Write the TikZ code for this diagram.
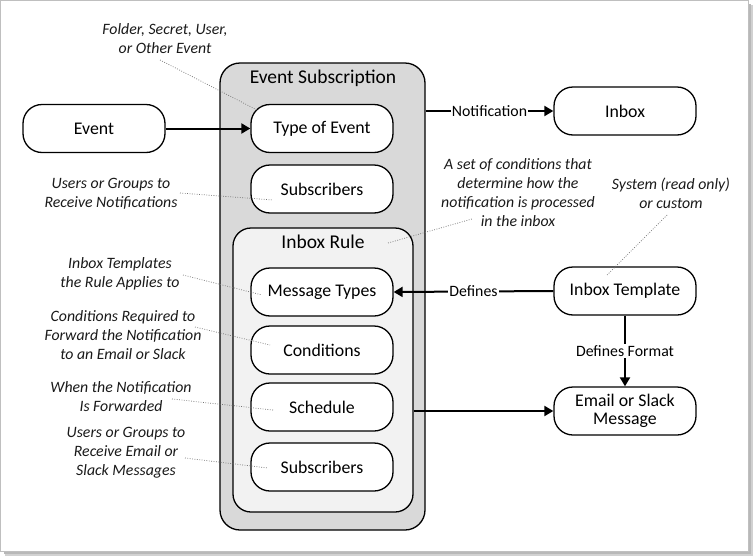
\documentclass[tikz,border=0pt]{standalone}
\usepackage{fontspec}
\setmainfont{Carlito}
\usetikzlibrary{arrows.meta}
\definecolor{outerfill}{HTML}{D9D9D9}
\definecolor{innerfill}{HTML}{F2F2F2}
\definecolor{notetext}{HTML}{1A1A1A}
\newcommand{\nodefnt}{\fontsize{17.8}{18.5}\selectfont}
\newcommand{\titlefnt}{\fontsize{19.5}{22}\selectfont}
\newcommand{\labelfnt}{\fontsize{15.8}{18}\selectfont}
\newcommand{\notefnt}{\itshape\fontsize{15.8}{19}\selectfont}
\begin{document}
\begin{tikzpicture}[x=1pt,y=-1pt,
  pill/.style={draw, line width=1.3pt, rounded corners=19pt, fill=white,
    minimum width=142pt, minimum height=48pt, inner sep=0pt, font=\nodefnt, align=center},
  container/.style={draw, line width=1.3pt, inner sep=0pt},
  note/.style={font=\notefnt, align=center, text=notetext, inner sep=0pt},
  conn/.style={line width=2pt, -{Triangle[length=9pt,width=10pt]}},
  dotln/.style={line width=0.7pt, dash pattern=on 0.8pt off 1.6pt, black!55},
  elabel/.style={fill=white, font=\labelfnt, inner sep=1pt}
]
\useasboundingbox (0,0) rectangle (756,560);
% frame with shadow
\fill[black!18] (5,5) rectangle (753,556);
\fill[black!28] (4,4) rectangle (751,554);
\draw[black!25, fill=white, line width=0.8pt] (0.5,0.5) rectangle (748,551);

% containers
\node[container, fill=outerfill, rounded corners=20pt, minimum width=205pt, minimum height=467pt] (sub) at (322.5,296.5) {};
\node[font=\titlefnt] (subtitle) at (323,78) {Event Subscription};
\node[container, fill=innerfill, rounded corners=18pt, minimum width=180pt, minimum height=284pt] (rule) at (323,370) {};
\node[font=\titlefnt] (ruletitle) at (323,242) {Inbox Rule};

% inner nodes
\node[pill] (type) at (322,128.5) {Type of Event};
\node[pill] (subs1) at (322,189) {Subscribers};
\node[pill] (msg) at (322,292) {Message Types};
\node[pill] (cond) at (322,350) {Conditions};
\node[pill] (sched) at (322,407) {Schedule};
\node[pill] (subs2) at (322,467) {Subscribers};

% outer nodes
\node[pill] (event) at (94,128.5) {Event};
\node[pill] (inbox) at (625,111) {Inbox};
\node[pill] (tmpl) at (625,291) {Inbox Template};
\node[pill] (email) at (625,411) {Email or Slack\\Message};

% connectors
\draw[conn] (event.east) -- (type.west);
\draw[conn] (sub.east |- inbox.west) -- node[elabel] {Notification} (inbox.west);
\draw[conn] (tmpl.west) -- node[elabel] {Defines} (msg.east);
\draw[conn] (tmpl.south) -- node[elabel] {Defines Format} (email.north);
\draw[conn] (rule.east |- email.west) -- (email.west);

% notes
\node[note] (n1) at (165,39) {Folder, Secret, User,\\or Other Event};
\node[note] (n2) at (111,194) {Users or Groups to\\Receive Notifications};
\node[note] (n3) at (518,192.5) {A set of conditions that\\determine how the\\notification is processed\\in the inbox};
\node[note] (n4) at (671,193.5) {System (read only)\\or custom};
\node[note] (n5) at (120,274) {Inbox Templates\\the Rule Applies to};
\node[note] (n6) at (123,335) {Conditions Required to\\Forward the Notification\\to an Email or Slack};
\node[note] (n7) at (121,396.5) {When the Notification\\Is Forwarded};
\node[note] (n8) at (126,453) {Users or Groups to\\Receive Email or\\Slack Messages};

% dotted leader lines
\coordinate (d1a) at (160,60);  \coordinate (d1b) at (257,110);
\coordinate (d2a) at (180,193); \coordinate (d2b) at (273,200);
\coordinate (d3a) at (388,243); \coordinate (d3b) at (472,219);
\coordinate (d4a) at (667,215); \coordinate (d4b) at (607,275);
\coordinate (d5a) at (183,275); \coordinate (d5b) at (262,295);
\coordinate (d6a) at (195,327); \coordinate (d6b) at (270,345);
\coordinate (d7a) at (172,399); \coordinate (d7b) at (273,410);
\coordinate (d8a) at (185,458); \coordinate (d8b) at (268,468);
\draw[dotln] (d1a) -- (d1b);
\draw[dotln] (d2a) -- (d2b);
\draw[dotln] (d3a) -- (d3b);
\draw[dotln] (d4a) -- (d4b);
\draw[dotln] (d5a) -- (d5b);
\draw[dotln] (d6a) -- (d6b);
\draw[dotln] (d7a) -- (d7b);
\draw[dotln] (d8a) -- (d8b);
\end{tikzpicture}
\end{document}
